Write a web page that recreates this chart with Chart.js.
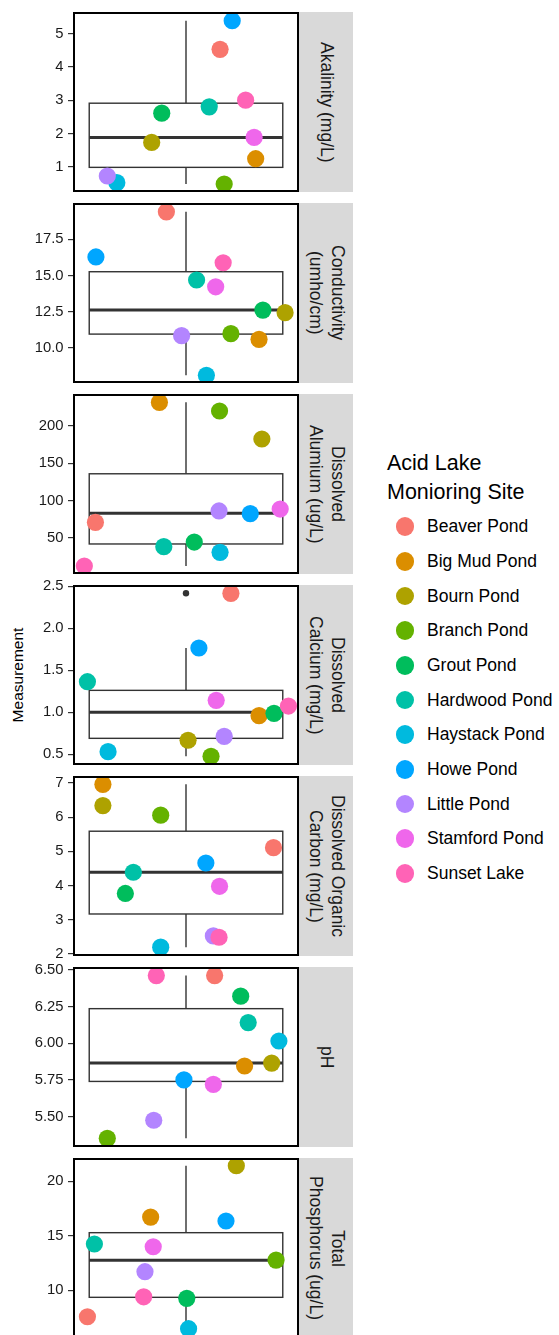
<!DOCTYPE html>
<html>
<head>
<meta charset="utf-8">
<script src="https://cdn.jsdelivr.net/npm/chart.js@4.4.1/dist/chart.umd.min.js"></script>
<style>
  html,body{margin:0;padding:0;background:#fff;}
  body{width:559px;height:1335px;overflow:hidden;position:relative;font-family:"Liberation Sans",Arial,sans-serif;}
  canvas.pc{position:absolute;left:0;}
  .strip{position:absolute;left:299px;width:54px;background:#d9d9d9;display:flex;align-items:center;justify-content:center;writing-mode:vertical-rl;font-size:17.5px;line-height:21.7px;color:#1a1a1a;text-align:center;white-space:nowrap;}
  .ytitle{position:absolute;left:17.5px;top:675px;transform:translate(-50%,-50%) rotate(-90deg);font-size:15.5px;color:#000;white-space:nowrap;}
  .ltitle{position:absolute;left:387px;top:449px;font-size:21.5px;line-height:29px;color:#000;white-space:nowrap;}
  .litem{position:absolute;left:396px;height:34.67px;line-height:34.67px;font-size:17.5px;color:#000;white-space:nowrap;}
  .litem .dot{position:absolute;left:0;top:8.1px;width:18.4px;height:18.4px;border-radius:50%;}
  .litem .lab{position:absolute;left:31px;top:0;}
</style>
</head>
<body>
<div class="ytitle">Measurement</div>
<script>
// ---------------- data ----------------
const sites = ["Beaver Pond","Big Mud Pond","Bourn Pond","Branch Pond","Grout Pond","Hardwood Pond","Haystack Pond","Howe Pond","Little Pond","Stamford Pond","Sunset Lake"];
const siteColors = ["#F8766D","#DB8E00","#AEA200","#64B200","#00BD5C","#00C1A7","#00BADE","#00A6FF","#B385FF","#EF67EB","#FF63B6"];
const legendTitle = ["Acid Lake","Monioring Site"];

const stripLabels = [
  ["Akalinity (mg/L)"],
  ["Conductivity","(umho/cm)"],
  ["Dissolved","Alumium (ug/L)"],
  ["Dissolved","Calcium (mg/L)"],
  ["Dissolved Organic","Carbon (mg/L)"],
  ["pH"],
  ["Total","Phosphorus (ug/L)"]
];
const yAxisTitle = "Measurement";

// measurements (order follows sites)
const akalinity   = [4.53, 1.24, 1.73, 0.48, 2.61, 2.80, 0.52, 5.39, 0.72, 1.88, 3.00];
const conductivity= [19.4, 10.59, 12.43, 10.98, 12.61, 14.69, 8.10, 16.28, 10.84, 14.22, 15.88];
const aluminum    = [71, 231.7, 182.6, 220.1, 44.6, 38.4, 30.8, 82.6, 86.2, 88.8, 12.5];
const calcium     = [2.417, 0.958, 0.665, 0.474, 0.986, 1.363, 0.529, 1.765, 0.712, 1.141, 1.073];
const organicC    = [5.11, 6.96, 6.34, 6.06, 3.77, 4.39, 2.20, 4.66, 2.53, 3.98, 2.49];
const ph          = [6.46, 5.845, 5.865, 5.353, 6.32, 6.14, 6.015, 5.75, 5.476, 5.72, 6.46];
const phosphorus  = [7.58, 16.72, 21.43, 12.78, 9.27, 14.25, 6.48, 16.36, 11.71, 14.0, 9.41];

// jittered x positions (discrete x = 1)
const jitAkalinity   = [1.132, 1.270, 0.867, 1.148, 0.906, 1.090, 0.732, 1.179, 0.695, 1.264, 1.231];
const jitConductivity= [0.924, 1.283, 1.384, 1.174, 1.298, 1.041, 1.079, 0.651, 0.983, 1.115, 1.144];
const jitAluminum    = [0.649, 0.897, 1.294, 1.130, 1.032, 0.914, 1.132, 1.249, 1.128, 1.365, 0.606];
const jitCalcium     = [1.174, 1.283, 1.008, 1.097, 1.341, 0.618, 0.698, 1.050, 1.148, 1.117, 1.397];
const jitOrganicC    = [1.339, 0.678, 0.678, 0.902, 0.765, 0.796, 0.902, 1.077, 1.106, 1.130, 1.128];
const jitPh          = [1.111, 1.227, 1.332, 0.695, 1.212, 1.241, 1.360, 0.992, 0.875, 1.106, 0.885];
const jitPhosphorus  = [0.618, 0.863, 1.195, 1.349, 1.003, 0.645, 1.010, 1.155, 0.841, 0.873, 0.836];

// box stats: [lower whisker, Q1, median, Q3, upper whisker]
const boxAkalinity   = [0.48, 0.98, 1.88, 2.91, 5.39];
const boxConductivity= [8.10, 10.95, 12.61, 15.26, 19.4];
const boxAluminum    = [12.5, 42, 83, 136, 231.7];
const boxCalcium     = [0.474, 0.688, 1.0, 1.26, 1.765];
const boxOrganicC    = [2.20, 3.17, 4.39, 5.59, 6.96];
const boxPh          = [5.353, 5.74, 5.865, 6.235, 6.46];
const boxPhosphorus  = [6.48, 9.36, 12.75, 15.29, 21.43];
const outCalcium     = [2.417];

// tick labels
const ticksAkalinity   = [1, 2, 3, 4, 5];
const ticksConductivity= [10.0, 12.5, 15.0, 17.5];
const ticksAluminum    = [50, 100, 150, 200];
const ticksCalcium     = [0.5, 1.0, 1.5, 2.0, 2.5];
const ticksOrganicC    = [2, 3, 4, 5, 6, 7];
const ticksPh          = [5.50, 5.75, 6.00, 6.25, 6.50];
const ticksPhosphorus  = [10, 15, 20];

// axis ranges
const rangeAkalinity   = [0.269, 5.623];
const rangeConductivity= [7.64, 19.94];
const rangeAluminum    = [3.13, 241.5];
const rangeCalcium     = [0.382, 2.504];
const rangeOrganicC    = [1.971, 7.175];
const rangePh          = [5.3007, 6.5116];
const rangePhosphorus  = [5.72, 22.05];

// ---------------- build ----------------
const panels = [
  {vals:akalinity, jit:jitAkalinity, box:boxAkalinity, out:[], ticks:ticksAkalinity, range:rangeAkalinity, dec:0},
  {vals:conductivity, jit:jitConductivity, box:boxConductivity, out:[], ticks:ticksConductivity, range:rangeConductivity, dec:1},
  {vals:aluminum, jit:jitAluminum, box:boxAluminum, out:[], ticks:ticksAluminum, range:rangeAluminum, dec:0},
  {vals:calcium, jit:jitCalcium, box:boxCalcium, out:outCalcium, ticks:ticksCalcium, range:rangeCalcium, dec:1},
  {vals:organicC, jit:jitOrganicC, box:boxOrganicC, out:[], ticks:ticksOrganicC, range:rangeOrganicC, dec:0},
  {vals:ph, jit:jitPh, box:boxPh, out:[], ticks:ticksPh, range:rangePh, dec:2},
  {vals:phosphorus, jit:jitPhosphorus, box:boxPhosphorus, out:[], ticks:ticksPhosphorus, range:rangePhosphorus, dec:0}
];

const panelTops = [13, 204, 395, 586, 777, 968, 1159];
const panelH = 178, padT = 20, padB = 20;
const FONT = '"Liberation Sans", Arial, sans-serif';

function makeBoxPlugin(stats){
  return {
    id:'boxplot',
    beforeDatasetsDraw(chart){
      const xs = chart.scales.x, ys = chart.scales.y, ctx = chart.ctx;
      const xl = xs.getPixelForValue(0.625), xr = xs.getPixelForValue(1.375), xc = xs.getPixelForValue(1);
      const [lo,q1,md,q3,hi] = stats.map(v => ys.getPixelForValue(v));
      ctx.save();
      ctx.strokeStyle = '#333333';
      ctx.lineWidth = 1.4;
      ctx.beginPath();
      ctx.moveTo(xc, q3); ctx.lineTo(xc, hi);
      ctx.moveTo(xc, q1); ctx.lineTo(xc, lo);
      ctx.stroke();
      ctx.fillStyle = '#ffffff';
      ctx.fillRect(xl, q3, xr - xl, q1 - q3);
      ctx.strokeRect(xl, q3, xr - xl, q1 - q3);
      ctx.lineWidth = 3;
      ctx.beginPath();
      ctx.moveTo(xl, md); ctx.lineTo(xr, md);
      ctx.stroke();
      ctx.restore();
    },
    afterDatasetsDraw(chart){
      const a = chart.chartArea, ctx = chart.ctx;
      ctx.save();
      ctx.strokeStyle = '#000';
      ctx.lineWidth = 2;
      ctx.strokeRect(a.left, a.top, a.right - a.left, a.bottom - a.top);
      ctx.restore();
    }
  };
}

panels.forEach((p, i) => {
  const cv = document.createElement('canvas');
  cv.className = 'pc';
  cv.width = 360; cv.height = panelH + padT + padB;
  cv.style.width = '360px'; cv.style.height = (panelH + padT + padB) + 'px';
  cv.style.top = (panelTops[i] - padT) + 'px';
  document.body.appendChild(cv);

  const strip = document.createElement('div');
  strip.className = 'strip';
  strip.style.top = (panelTops[i] - 1) + 'px';
  strip.style.height = (panelH + 2) + 'px';
  strip.innerHTML = '<span>' + stripLabels[i].join('<br>') + '</span>';
  document.body.appendChild(strip);

  const datasets = [];
  if (p.out.length) {
    datasets.push({
      data: p.out.map(v => ({x: 1, y: v})),
      backgroundColor: '#333333', borderWidth: 0, pointRadius: 3.2, pointHoverRadius: 3.2, clip: 0
    });
  }
  datasets.push({
    data: p.vals.map((v, j) => ({x: p.jit[j], y: v})),
    backgroundColor: siteColors, borderWidth: 0, pointRadius: 8.6, pointHoverRadius: 8.6, clip: 0
  });

  new Chart(cv.getContext('2d'), {
    type: 'scatter',
    data: { datasets },
    options: {
      responsive: false, animation: false, devicePixelRatio: 1, events: [],
      layout: { padding: { top: padT, bottom: padB, left: 0, right: 62 } },
      plugins: { legend: { display: false }, tooltip: { enabled: false } },
      scales: {
        x: { type: 'linear', min: 0.566, max: 1.434, display: false },
        y: {
          type: 'linear', min: p.range[0], max: p.range[1],
          afterFit(s){ s.width = 74; },
          afterBuildTicks(s){ s.ticks = p.ticks.map(v => ({value: v})); },
          ticks: {
            color: '#1a1a1a', padding: 4.5,
            font: { family: FONT, size: 14.8 },
            callback: (v) => Number(v).toFixed(p.dec)
          },
          grid: { display: true, drawOnChartArea: false, drawTicks: true, tickLength: 6, color: '#333333', lineWidth: 1.2 },
          border: { display: false }
        }
      }
    },
    plugins: [makeBoxPlugin(p.box)]
  });
});

// legend
const lt = document.createElement('div');
lt.className = 'ltitle';
lt.innerHTML = legendTitle.join('<br>');
document.body.appendChild(lt);
sites.forEach((s, k) => {
  const d = document.createElement('div');
  d.className = 'litem';
  d.style.top = (526.7 + k * 34.67 - 17.33) + 'px';
  d.innerHTML = '<span class="dot" style="background:' + siteColors[k] + '"></span><span class="lab">' + s + '</span>';
  document.body.appendChild(d);
});
</script>
</body>
</html>
